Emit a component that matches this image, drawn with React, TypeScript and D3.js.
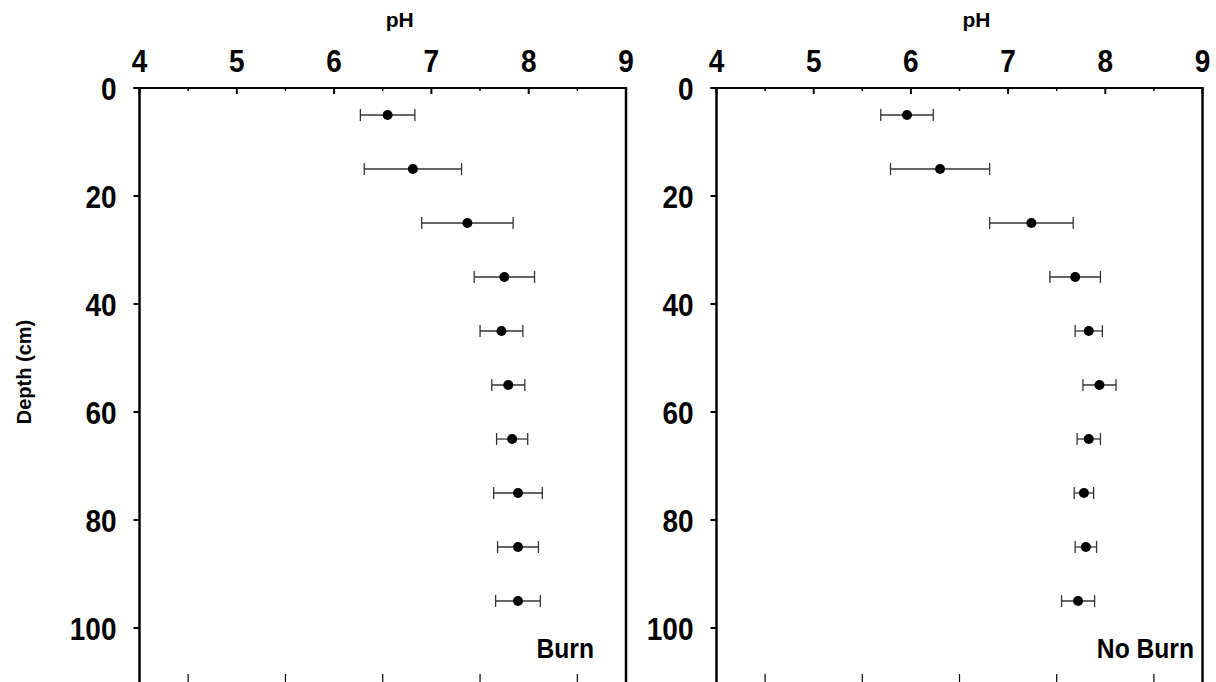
import React from 'react';
import * as d3 from 'd3';

// depth of each sample layer midpoint (cm)
const depths = [5, 15, 25, 35, 45, 55, 65, 75, 85, 95];
// pH means and half-width of error bars
const burnPH = [6.55, 6.81, 7.37, 7.75, 7.72, 7.79, 7.83, 7.89, 7.89, 7.89];
const burnErr = [0.28, 0.5, 0.47, 0.31, 0.22, 0.17, 0.16, 0.25, 0.21, 0.23];
const noBurnPH = [5.96, 6.3, 7.24, 7.69, 7.83, 7.94, 7.83, 7.78, 7.8, 7.72];
const noBurnErr = [0.27, 0.51, 0.43, 0.26, 0.14, 0.17, 0.12, 0.1, 0.11, 0.17];

const phTicks = [4, 5, 6, 7, 8, 9];
const phMinor = [4.5, 5.5, 6.5, 7.5, 8.5];
const depthTicks = [0, 20, 40, 60, 80, 100];

const W = 1216;
const H = 682;
const top = 88;
const bottom = 682;
const font = "'Liberation Sans', Arial, sans-serif";

const yScale = d3.scaleLinear().domain([0, 110]).range([top, bottom]);

function Panel({ x0, x1, means, errs, label, labelX }) {
  const x = d3.scaleLinear().domain([4, 9]).range([x0, x1]);
  return (
    <g>
      {/* frame */}
      <line x1={x0 - 6} x2={x1} y1={top} y2={top} stroke="#000" strokeWidth={2} />
      <line x1={x0} x2={x0} y1={top} y2={bottom} stroke="#000" strokeWidth={2.5} />
      <line x1={x1} x2={x1} y1={top - 1} y2={bottom} stroke="#000" strokeWidth={2.5} />
      {/* top ticks */}
      {phTicks.map((t) => (
        <g key={'t' + t}>
          <line x1={x(t)} x2={x(t)} y1={top} y2={top + 6} stroke="#000" strokeWidth={2} />
          <text
            transform={`translate(${x(t)},${top - 16}) scale(0.875,1)`}
            textAnchor="middle"
            fontFamily={font}
            fontWeight="bold"
            fontSize={32}
          >
            {t}
          </text>
        </g>
      ))}
      {phMinor.map((t) => (
        <g key={'m' + t}>
          <line x1={x(t)} x2={x(t)} y1={top} y2={top + 3} stroke="#000" strokeWidth={1.5} />
          <line x1={x(t)} x2={x(t)} y1={bottom - 8} y2={bottom} stroke="#000" strokeWidth={1.2} />
        </g>
      ))}
      {/* depth ticks */}
      {depthTicks.map((d) => (
        <g key={'d' + d}>
          <line x1={x0 - 6} x2={x0} y1={yScale(d)} y2={yScale(d)} stroke="#000" strokeWidth={2} />
          <text
            transform={`translate(${x0 - 23},${yScale(d) + 11.5}) scale(0.875,1)`}
            textAnchor="end"
            fontFamily={font}
            fontWeight="bold"
            fontSize={32}
          >
            {d}
          </text>
        </g>
      ))}
      <text
        x={(x0 + x1) / 2 + 17}
        y={27}
        textAnchor="middle"
        fontFamily={font}
        fontWeight="bold"
        fontSize={21}
      >
        pH
      </text>
      {/* error bars and points */}
      {depths.map((d, i) => {
        const cy = yScale(d);
        const lo = x(means[i] - errs[i]);
        const hi = x(means[i] + errs[i]);
        return (
          <g key={'p' + d}>
            <line x1={lo} x2={hi} y1={cy} y2={cy} stroke="#333" strokeWidth={1.3} />
            <line x1={lo} x2={lo} y1={cy - 6} y2={cy + 6} stroke="#333" strokeWidth={1.3} />
            <line x1={hi} x2={hi} y1={cy - 6} y2={cy + 6} stroke="#333" strokeWidth={1.3} />
            <circle cx={x(means[i])} cy={cy} r={5} fill="#000" />
          </g>
        );
      })}
      <text
        transform={`translate(${labelX},658) scale(0.88,1)`}
        textAnchor="end"
        fontFamily={font}
        fontWeight="bold"
        fontSize={28}
      >
        {label}
      </text>
    </g>
  );
}

export default function App() {
  return (
    <svg
      width={W}
      height={H}
      style={{ position: 'absolute', left: 0, top: 0, background: '#fff' }}
    >
      <rect width={W} height={H} fill="#fff" />
      <Panel x0={139.5} x1={626} means={burnPH} errs={burnErr} label="Burn" labelX={594} />
      <Panel x0={716.5} x1={1202.5} means={noBurnPH} errs={noBurnErr} label="No Burn" labelX={1194} />
      <text
        transform="translate(31,372) rotate(-90)"
        textAnchor="middle"
        fontFamily={font}
        fontWeight="bold"
        fontSize={20}
      >
        Depth (cm)
      </text>
    </svg>
  );
}
